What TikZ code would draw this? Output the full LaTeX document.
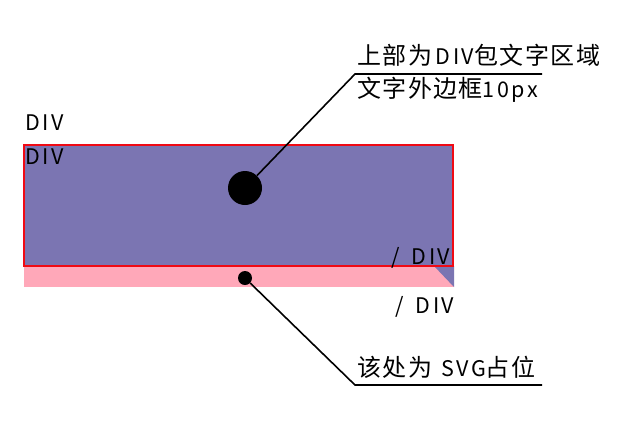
\documentclass[tikz,border=0pt]{standalone}
\usepackage{fontspec}
\setmainfont{Noto Sans CJK SC}[LetterSpace=12]
\newfontfamily\cjkfont{Noto Sans CJK SC}[LetterSpace=6]
\newcommand\cjtxt[1]{{\cjkfont\fontsize{24}{27}\selectfont #1}}
\definecolor{divpurple}{RGB}{123,117,178}
\definecolor{svgpink}{RGB}{255,168,185}
\definecolor{borderred}{RGB}{240,10,20}
\begin{document}
\begin{tikzpicture}[x=1pt,y=-1pt,
  lbl/.style={anchor=base west,inner sep=0pt,font=\fontsize{21.5}{24}\selectfont},
  leader/.style={line width=1.6pt,black},
  dotc/.style={circle,fill=black,inner sep=0pt}]
\useasboundingbox (0,0) rectangle (632,432);
% boxes
\fill[svgpink] (24,266) rectangle (454,287);
\fill[divpurple] (434,266) -- (454,266) -- (454,287) -- cycle;
\fill[divpurple] (24,145) rectangle (453,266);
\draw[borderred,line width=1.8pt] (24,145) rectangle (453,266);
% labels
\node[lbl] (t1) at (357,64) {\cjtxt{上部为}\,DIV\cjtxt{包文字区域}};
\node[lbl] (t2) at (357,97) {\cjtxt{文字外边框}10px};
\node[lbl] (t3) at (357,376) {\cjtxt{该处为}\hspace{9pt}SVG\cjtxt{占位}};
\node[lbl] (d1) at (25,130) {DIV};
\node[lbl] (d2) at (25,164) {DIV};
\node[lbl] (e1) at (391,264) {/\hspace{12pt}DIV};
\node[lbl] (e2) at (395,313) {/\hspace{12pt}DIV};
% markers
\node[dotc,minimum size=34pt] (c1) at (245,188) {};
\node[dotc,minimum size=14pt] (c2) at (245,278) {};
\coordinate (k1) at (355,74);
\coordinate (k1e) at (542,74);
\coordinate (k2) at (355,385);
\coordinate (k2e) at (542,385);
\draw[leader] (c1) -- (k1) -- (k1e);
\draw[leader] (c2) -- (k2) -- (k2e);
\end{tikzpicture}
\end{document}
